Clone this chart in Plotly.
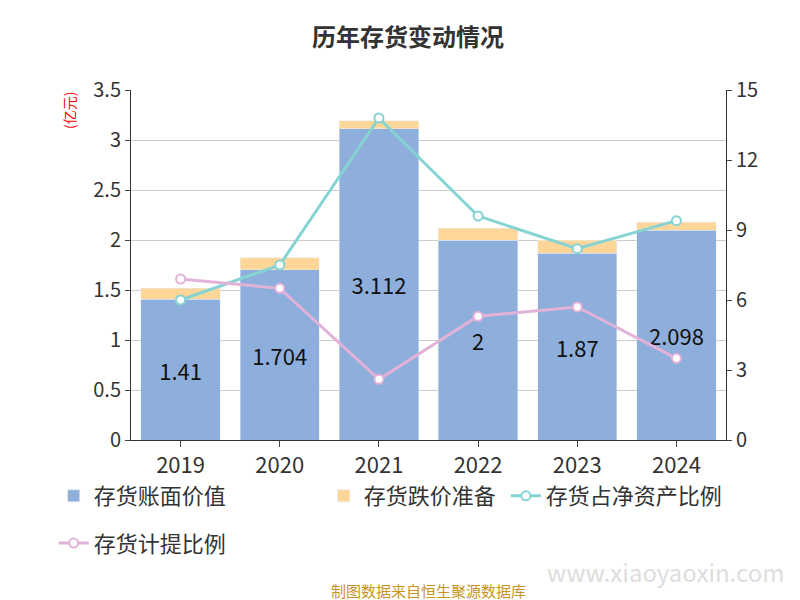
import plotly.graph_objects as go

years = ["2019", "2020", "2021", "2022", "2023", "2024"]
book = [1.41, 1.704, 3.112, 2, 1.87, 2.098]
provision = [0.11, 0.12, 0.08, 0.12, 0.13, 0.08]
ratio_net = [6.0, 7.5, 13.8, 9.6, 8.2, 9.4]
ratio_prov = [6.9, 6.5, 2.6, 5.3, 5.7, 3.5]

F = "Noto Sans CJK SC"
fig = go.Figure()
fig.add_bar(x=years, y=book, name="存货账面价值", marker_color="#8eaedb",
            text=[str(v) for v in book], textposition="inside", insidetextanchor="middle",
            textfont=dict(size=22, color="#111"))
fig.add_bar(x=years, y=provision, name="存货跌价准备", marker_color="#fdd698")
fig.add_scatter(x=years, y=ratio_net, name="存货占净资产比例", yaxis="y2", mode="lines+markers",
                legend="legend3",
                line=dict(color="#86d3d3", width=3),
                marker=dict(size=9, color="white", line=dict(color="#86d3d3", width=2)))
fig.add_scatter(x=years, y=ratio_prov, name="存货计提比例", yaxis="y2", mode="lines+markers",
                legend="legend2",
                line=dict(color="#e2b2d8", width=3),
                marker=dict(size=9, color="white", line=dict(color="#e2b2d8", width=2)))
fig.update_layout(
    width=800, height=600, barmode="stack", bargap=0.2,
    font=dict(family=F, color="#333"),
    plot_bgcolor="white", paper_bgcolor="white",
    title=dict(text="<b>历年存货变动情况</b>", x=0.5, y=0.965, xanchor="center", font=dict(size=24, color="#333")),
    margin=dict(l=123, r=82, t=82, b=168, autoexpand=False),
    xaxis=dict(tickfont=dict(size=22), showline=True, linecolor="#333", ticks="outside", ticklen=6),
    yaxis=dict(range=[0, 3.5], dtick=0.5, tickfont=dict(size=20), gridcolor="#ccc",
               showline=True, linecolor="#333", ticks="outside"),
    yaxis2=dict(range=[0, 15], dtick=3, overlaying="y", side="right", tickfont=dict(size=20),
                showgrid=False, showline=True, linecolor="#333", ticks="outside"),
    legend=dict(orientation="h", x=-0.13, y=-0.1, xanchor="left", yanchor="top",
                font=dict(size=22), entrywidth=225, entrywidthmode="pixels", traceorder="normal"),
    legend3=dict(orientation="h", x=0.63, y=-0.1, xanchor="left", yanchor="top",
                 font=dict(size=22)),
    legend2=dict(orientation="h", x=-0.13, y=-0.235, xanchor="left", yanchor="top",
                 font=dict(size=22)),
    annotations=[
        dict(text="(亿元)", x=-0.105, y=1.0, xref="paper", yref="paper", textangle=-90,
             xanchor="center", yanchor="top", showarrow=False, font=dict(size=14, color="red")),
        dict(text="%", x=1.135, y=1.0, xref="paper", yref="paper", textangle=-90,
             xanchor="center", yanchor="top", showarrow=False, font=dict(size=14, color="red")),
        dict(text="制图数据来自恒生聚源数据库", x=0.5, y=-0.43, xref="paper", yref="paper",
             xanchor="center", yanchor="middle", showarrow=False, font=dict(size=15, color="#c8941a")),
        dict(text="www.xiaoyaoxin.com", x=1.1, y=-0.377, xref="paper", yref="paper", xanchor="right",
             yanchor="middle", showarrow=False, font=dict(size=24, color="#ddd")),
    ],
)
fig.write_html("out.html")
